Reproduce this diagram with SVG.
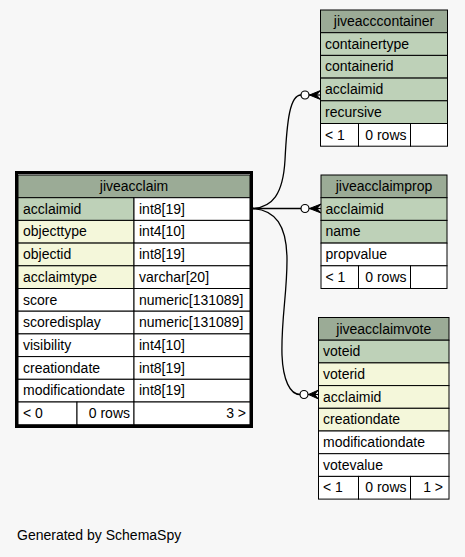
<svg xmlns="http://www.w3.org/2000/svg" width="465" height="557" viewBox="0 0 465 557">
<style>
text{font-family:"Liberation Sans",Arial,sans-serif;font-size:14px;fill:#000}
.c{text-anchor:middle}
.e{text-anchor:end}
.cell{stroke:#000;stroke-width:1}
.bg{fill:#f7f7f7;stroke:none}
.hd{fill:#9bab96}
.pk{fill:#bed1b8}
.ix{fill:#f4f7da}
.pl{fill:#ffffff}
.ft{fill:#ffffff}
.conn path.l{fill:none;stroke:#000;stroke-width:1.3}
.conn circle{fill:#ffffff;stroke:#000;stroke-width:1.2}
.conn polygon{fill:#000;stroke:#000;stroke-width:1}
.conn line{stroke:#000;stroke-width:1.2}
</style>
<rect class="bg" x="0" y="0" width="465" height="557"/>

<g id="jiveacclaim" class="cell">
<rect class="hd" x="18" y="175" width="232" height="22.7"/>
<text class="c" x="134" y="191" stroke="none">jiveacclaim</text>
<rect class="pk" x="18" y="197.7" width="116" height="22.7"/><rect class="pl" x="134" y="197.7" width="116" height="22.7"/>
<rect class="ix" x="18" y="220.4" width="116" height="22.7"/><rect class="pl" x="134" y="220.4" width="116" height="22.7"/>
<rect class="ix" x="18" y="243.1" width="116" height="22.7"/><rect class="pl" x="134" y="243.1" width="116" height="22.7"/>
<rect class="ix" x="18" y="265.8" width="116" height="22.7"/><rect class="pl" x="134" y="265.8" width="116" height="22.7"/>
<rect class="pl" x="18" y="288.5" width="116" height="22.7"/><rect class="pl" x="134" y="288.5" width="116" height="22.7"/>
<rect class="pl" x="18" y="311.2" width="116" height="22.7"/><rect class="pl" x="134" y="311.2" width="116" height="22.7"/>
<rect class="pl" x="18" y="333.9" width="116" height="22.7"/><rect class="pl" x="134" y="333.9" width="116" height="22.7"/>
<rect class="pl" x="18" y="356.6" width="116" height="22.7"/><rect class="pl" x="134" y="356.6" width="116" height="22.7"/>
<rect class="pl" x="18" y="379.3" width="116" height="22.7"/><rect class="pl" x="134" y="379.3" width="116" height="22.7"/>
<rect class="ft" x="18" y="402" width="59" height="22.7"/><rect class="ft" x="77" y="402" width="57" height="22.7"/><rect class="ft" x="134" y="402" width="116" height="22.7"/>
<rect x="16.5" y="172.5" width="235" height="254" fill="none" stroke-width="3"/>
<g stroke="none">
<text x="23" y="213.7">acclaimid</text><text x="139" y="213.7">int8[19]</text>
<text x="23" y="236.4">objecttype</text><text x="139" y="236.4">int4[10]</text>
<text x="23" y="259.1">objectid</text><text x="139" y="259.1">int8[19]</text>
<text x="23" y="281.8">acclaimtype</text><text x="139" y="281.8">varchar[20]</text>
<text x="23" y="304.5">score</text><text x="139" y="304.5">numeric[131089]</text>
<text x="23" y="327.2">scoredisplay</text><text x="139" y="327.2">numeric[131089]</text>
<text x="23" y="349.9">visibility</text><text x="139" y="349.9">int4[10]</text>
<text x="23" y="372.6">creationdate</text><text x="139" y="372.6">int8[19]</text>
<text x="23" y="395.3">modificationdate</text><text x="139" y="395.3">int8[19]</text>
<text x="23" y="418">&lt; 0</text><text class="e" x="130" y="418">0 rows</text><text class="e" x="246" y="418">3 &gt;</text>
</g>
</g>

<g id="jiveacccontainer" class="cell">
<rect class="hd" x="320.5" y="10" width="127" height="22.7"/>
<rect class="pk" x="320.5" y="32.7" width="127" height="22.7"/>
<rect class="pk" x="320.5" y="55.4" width="127" height="22.7"/>
<rect class="pk" x="320.5" y="78.1" width="127" height="22.7"/>
<rect class="pk" x="320.5" y="100.8" width="127" height="22.7"/>
<rect class="ft" x="320.5" y="123.5" width="38" height="22.7"/><rect class="ft" x="358.5" y="123.5" width="52" height="22.7"/><rect class="ft" x="410.5" y="123.5" width="37" height="22.7"/>
<g stroke="none">
<text class="c" x="384" y="26">jiveacccontainer</text>
<text x="325" y="48.7">containertype</text>
<text x="325" y="71.4">containerid</text>
<text x="325" y="94.1">acclaimid</text>
<text x="325" y="116.8">recursive</text>
<text x="325" y="139.5">&lt; 1</text><text class="e" x="406.5" y="139.5">0 rows</text>
</g>
</g>

<g id="jiveacclaimprop" class="cell">
<rect class="hd" x="321" y="175" width="126" height="22.7"/>
<rect class="pk" x="321" y="197.7" width="126" height="22.7"/>
<rect class="pk" x="321" y="220.4" width="126" height="22.7"/>
<rect class="pl" x="321" y="243.1" width="126" height="22.7"/>
<rect class="ft" x="321" y="265.8" width="37.5" height="22.7"/><rect class="ft" x="358.5" y="265.8" width="52" height="22.7"/><rect class="ft" x="410.5" y="265.8" width="36.5" height="22.7"/>
<g stroke="none">
<text class="c" x="384" y="191">jiveacclaimprop</text>
<text x="325.5" y="213.7">acclaimid</text>
<text x="325.5" y="236.4">name</text>
<text x="325.5" y="259.1">propvalue</text>
<text x="325.5" y="281.8">&lt; 1</text><text class="e" x="406.5" y="281.8">0 rows</text>
</g>
</g>

<g id="jiveacclaimvote" class="cell">
<rect class="hd" x="318.5" y="317.5" width="130.5" height="22.7"/>
<rect class="pk" x="318.5" y="340.2" width="130.5" height="22.7"/>
<rect class="ix" x="318.5" y="362.9" width="130.5" height="22.7"/>
<rect class="ix" x="318.5" y="385.6" width="130.5" height="22.7"/>
<rect class="ix" x="318.5" y="408.3" width="130.5" height="22.7"/>
<rect class="pl" x="318.5" y="431" width="130.5" height="22.7"/>
<rect class="pl" x="318.5" y="453.7" width="130.5" height="22.7"/>
<rect class="ft" x="318.5" y="476.4" width="40" height="22.7"/><rect class="ft" x="358.5" y="476.4" width="52" height="22.7"/><rect class="ft" x="410.5" y="476.4" width="38.5" height="22.7"/>
<g stroke="none">
<text class="c" x="383.75" y="333.5">jiveacclaimvote</text>
<text x="323" y="356.2">voteid</text>
<text x="323" y="378.9">voterid</text>
<text x="323" y="401.6">acclaimid</text>
<text x="323" y="424.3">creationdate</text>
<text x="323" y="447">modificationdate</text>
<text x="323" y="469.7">votevalue</text>
<text x="323" y="492.4">&lt; 1</text><text class="e" x="406.5" y="492.4">0 rows</text><text class="e" x="443" y="492.4">1 &gt;</text>
</g>
</g>

<g id="connectors" class="conn">
<path class="l" d="M253,208.5 C272,207 283,195 285,160 C287,120 290,95 301,95"/>
<circle cx="305" cy="95" r="4"/>
<line x1="309" y1="95" x2="320.5" y2="95"/>
<polygon points="309.5,95 320.5,90.5 316.5,95 320.5,99.5"/>

<path class="l" d="M253,208.5 L301,208.5"/>
<circle cx="305" cy="208.5" r="4"/>
<line x1="309" y1="208.5" x2="321" y2="208.5"/>
<polygon points="309.5,208.5 321,204 317,208.5 321,213"/>

<path class="l" d="M253,208.5 C275,210 287,225 287,260 C287,295 281,320 282,355 C283,380 290,394.5 300,394.5"/>
<circle cx="304" cy="394.5" r="4"/>
<line x1="308" y1="394.5" x2="318.5" y2="394.5"/>
<polygon points="308.5,394.5 318.5,390 314.5,394.5 318.5,399"/>
</g>

<text x="17" y="539.5">Generated by SchemaSpy</text>
</svg>
